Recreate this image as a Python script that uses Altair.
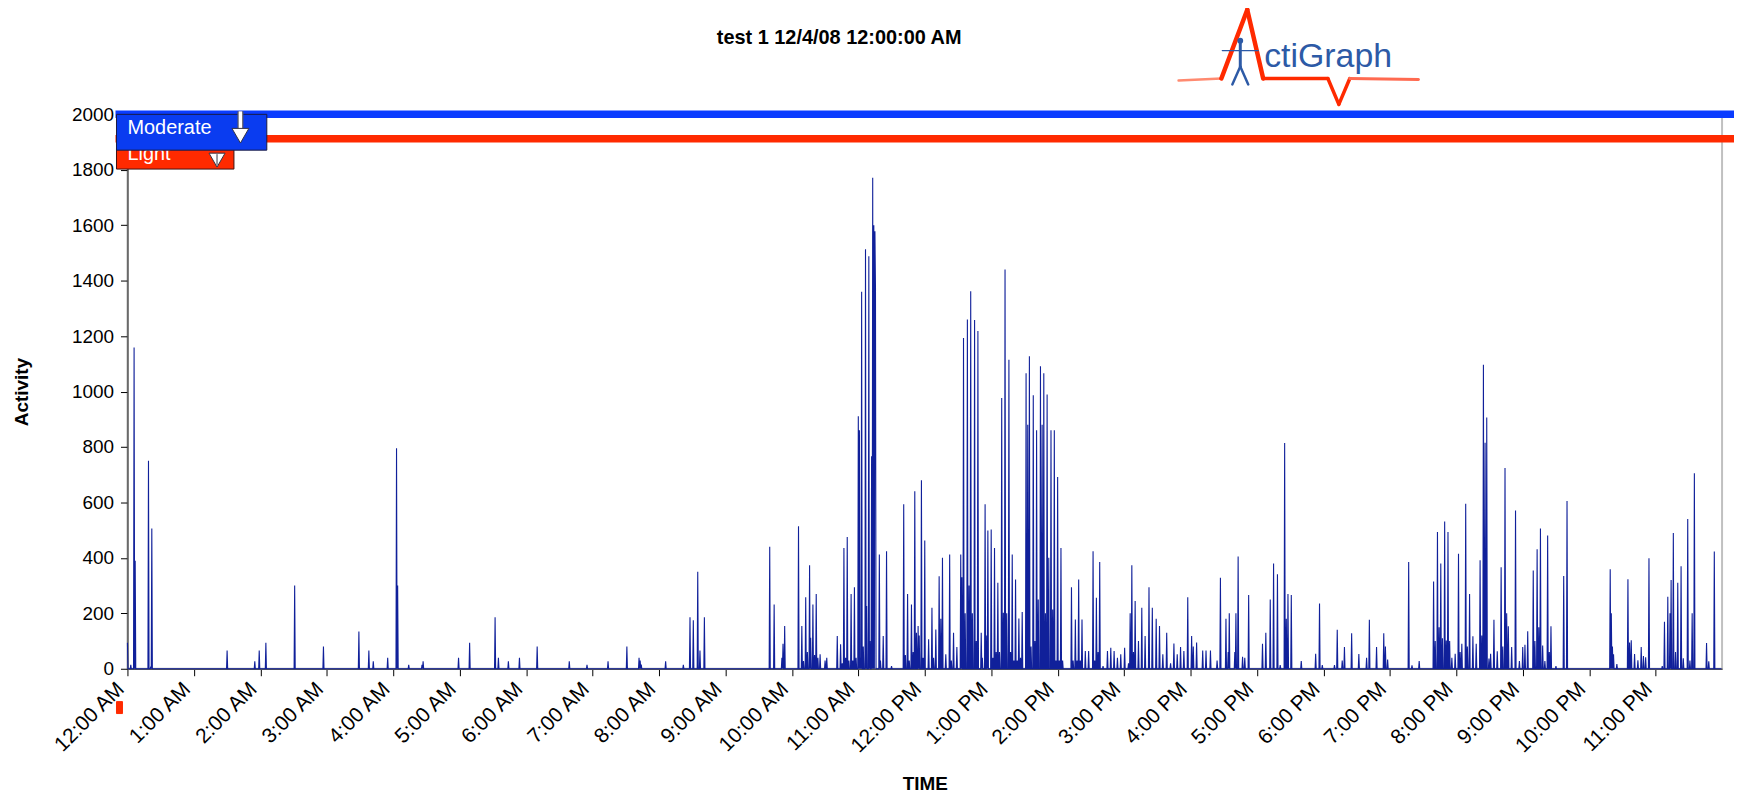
import altair as alt
import numpy as np
import pandas as pd

TITLE = "test 1 12/4/08 12:00:00 AM"
X_TITLE = "TIME"
Y_TITLE = "Activity"
LOGO_TEXT = "ctiGraph"
TICK_LABELS = ["12:00 AM", "1:00 AM", "2:00 AM", "3:00 AM", "4:00 AM", "5:00 AM",
               "6:00 AM", "7:00 AM", "8:00 AM", "9:00 AM", "10:00 AM", "11:00 AM",
               "12:00 PM", "1:00 PM", "2:00 PM", "3:00 PM", "4:00 PM", "5:00 PM",
               "6:00 PM", "7:00 PM", "8:00 PM", "9:00 PM", "10:00 PM", "11:00 PM"]
Y_TICKS = [0, 200, 400, 600, 800, 1000, 1200, 1400, 1600, 1800, 2000]
LEVELS = ["Moderate", "Light"]
LEVEL_VALUES = [2000, 1912]
LEVEL_COLORS = ["#0a3cff", "#ff2a00"]

# (minute of day, activity count); all other epochs are 0
SPIKES = [
    (0, 94), (3, 14), (6, 1159), (7, 390), (19, 750), (21, 8), (22, 506),
    (90, 66), (115, 27), (119, 66),
    (125, 94), (151, 300), (177, 80),
    (209, 134), (218, 66), (222, 27), (235, 40),
    (243, 795), (244, 300), (254, 14), (266, 14), (267, 27), (299, 40),
    (309, 94), (332, 186), (335, 40), (344, 27), (354, 40),
    (370, 80), (399, 27), (415, 14),
    (434, 27), (451, 80), (462, 40), (463, 30), (464, 15), (486, 27),
    (502, 14), (508, 186), (511, 175), (515, 350), (517, 66), (521, 186),
    (580, 440), (584, 232), (591, 40), (592, 90), (593.5, 154),
    (606, 514), (609, 154), (610.5, 28), (612.5, 258), (614, 60), (616, 373), (617, 112),
    (619, 232), (620.5, 50), (622, 270), (623.5, 40), (625.5, 52), (630, 30), (631.5, 40),
    (641, 118), (644, 88), (645.5, 20), (647, 436), (648.5, 40), (650, 475), (651.5, 30),
    (653.5, 270), (655, 30), (656.5, 294), (658, 40),
    (660, 911), (661, 860), (662, 40), (663, 1360), (664.5, 80), (666.5, 1513), (667.5, 226),
    (669.5, 1488), (670.5, 100), (672, 767), (673, 1771), (674, 1600), (675, 1578), (675.5, 1375),
    (679, 412), (680, 30), (682.5, 118), (685.5, 424), (690, 10), (701, 593), (702.5, 50),
    (704.5, 270), (706, 30), (708, 232), (709.5, 60), (711, 640), (712.5, 130), (714, 154),
    (715, 120), (717, 680), (718.5, 40), (720, 463),
    (723.5, 106), (726.5, 220), (728, 40), (730, 142), (733, 334), (734.5, 180), (736, 400),
    (739, 52), (742.5, 412), (744, 30), (746, 130), (749, 78), (752.5, 412), (753.5, 330),
    (755, 1193), (756.5, 200), (758.5, 1260), (760, 300), (761.5, 1362), (763, 200),
    (765, 1258), (766.5, 100), (768, 1218), (771, 130), (772, 40), (774.5, 593), (776, 120),
    (777, 499),
    (780, 502), (781.5, 40), (783, 436), (784.5, 60), (786, 310), (787.5, 60), (789.5, 977),
    (791, 202), (792.5, 1440), (794, 200), (796, 1115), (797.5, 60), (799, 412), (800.5, 30),
    (802, 322), (803.5, 30), (805, 181), (806.5, 40), (808, 205), (811.5, 1066), (813, 880),
    (814.5, 1127), (816, 80), (818, 987), (819.5, 100), (821, 860), (822.5, 250), (824.5, 1091),
    (826, 880), (827.5, 1066), (829, 200), (830.5, 989), (832, 400), (834, 860), (835.5, 214),
    (837, 860), (838.5, 30), (840, 692), (841.5, 30), (843, 436), (844.5, 30),
    (852.5, 294), (854, 30), (856, 178), (857.5, 30), (859, 322), (860.5, 30), (862, 178),
    (865, 64), (868, 64), (872, 424), (873.5, 30), (875, 256), (876.5, 60), (878, 385),
    (881, 10), (885, 64), (888, 76), (891, 64), (894, 40), (897, 52),
    (900.5, 76), (904, 20), (905.5, 200), (907, 373), (908.5, 60), (910, 244), (913, 100),
    (916, 220), (919, 118), (922.5, 294), (925.5, 220), (929, 180), (932, 154), (935, 52),
    (938.5, 130), (942, 20), (945, 91), (948, 52), (951, 78), (954, 64), (957.5, 258),
    (961, 118), (962.5, 80), (965.5, 95), (971, 66), (974, 66), (978, 66), (984, 30),
    (987, 328), (992, 180), (994, 60), (995, 200), (1000, 60), (1001, 200), (1003, 405),
    (1007, 43), (1009, 40), (1012.5, 266),
    (1025, 90), (1028, 130), (1032, 250), (1035, 380), (1038.5, 341), (1041, 13), (1045, 814),
    (1046.5, 180), (1048, 270), (1051, 266), (1060, 28), (1073, 54), (1076.5, 235), (1079, 13),
    (1090, 13), (1092.5, 141), (1097, 30), (1099, 78), (1105.5, 128), (1112, 53), (1119, 40),
    (1121.5, 177), (1128, 78), (1134.5, 128), (1136, 80), (1138, 33),
    (1157, 385), (1160, 12), (1166.5, 28), (1179.5, 315), (1181, 100), (1183, 493),
    (1184.5, 150), (1186, 380), (1187.5, 110), (1189.5, 531), (1191, 102), (1192.5, 493),
    (1194, 100), (1196, 40), (1199, 54),
    (1202, 415), (1203.5, 60), (1205, 90), (1208.5, 595), (1210, 80), (1212, 270), (1215, 117),
    (1218, 90), (1221.5, 391), (1223, 120), (1224.5, 1097), (1226, 815), (1227.5, 906),
    (1229.5, 37), (1231, 54), (1234, 177), (1237, 63), (1240.5, 366), (1242, 80), (1244, 724),
    (1245.5, 200), (1247, 153), (1250, 78), (1253.5, 571), (1257, 28),
    (1260, 78), (1262, 87), (1264.5, 135), (1269.5, 354), (1271, 100), (1273, 431),
    (1274.5, 150), (1276, 506), (1278, 84), (1280, 28), (1282.5, 481), (1284, 60),
    (1285.5, 153), (1290, 10), (1297, 335), (1300, 605),
    (1339, 359), (1340, 200), (1341, 80), (1342, 52), (1345, 17), (1355, 323), (1356.5, 95),
    (1358, 103), (1361, 53), (1364, 31), (1367, 78), (1369, 46), (1371, 41), (1374, 399),
    (1386, 10), (1388, 170), (1391, 260), (1393, 200), (1394, 320), (1396, 490), (1398, 60),
    (1400, 310), (1403, 370), (1405, 38), (1409, 540), (1411, 30), (1413, 200), (1415, 705),
    (1426, 93), (1428, 27), (1433, 423),
]

# half-minute epoch grid
minutes = np.arange(0, 1440, 0.5)
activity = np.zeros(len(minutes))
for m, v in SPIKES:
    activity[int(round(m * 2))] = v
df = pd.DataFrame({"minute": minutes, "activity": activity})
thr = pd.DataFrame({"level": LEVELS, "activity": LEVEL_VALUES})

W, H = 1602, 557
FONT = "Liberation Sans"
label_expr = "[" + ",".join("'%s'" % s for s in TICK_LABELS) + "][round(datum.value/60)]"

x_axis = alt.Axis(values=[i * 60 for i in range(24)], labelExpr=label_expr, labelAngle=315,
                  labelAlign="right", labelBaseline="middle", labelFont=FONT, labelFontSize=21,
                  labelColor="black", labelPadding=10, labelOffset=-7, labelOverlap=False,
                  labelFlush=False, tickSize=7, tickColor="black", tickWidth=1,
                  domainColor="#555555", domainWidth=1.5, grid=False, title=X_TITLE,
                  titleFont=FONT, titleFontSize=19, titleFontWeight="bold", titleColor="black",
                  titleX=W / 2, titleY=115, titleAlign="center", titleBaseline="middle")
y_axis = alt.Axis(values=Y_TICKS, format="d", labelFont=FONT, labelFontSize=19,
                  labelColor="black", labelPadding=7, tickSize=7, tickColor="black",
                  domainColor="#555555", domainWidth=1.5, grid=False, title=Y_TITLE,
                  titleFont=FONT, titleFontSize=19, titleFontWeight="bold", titleColor="black",
                  titleX=-106, titleY=H / 2, titleAngle=270, titleAlign="center",
                  titleBaseline="middle")

line = alt.Chart(df).mark_line(color="#10209a", strokeWidth=1.1).encode(
    x=alt.X("minute:Q", scale=alt.Scale(domain=[0, 1440], nice=False, zero=True), axis=x_axis),
    y=alt.Y("activity:Q", scale=alt.Scale(domain=[0, 2000], nice=False), axis=y_axis),
)

levels = alt.Chart(thr).mark_rule(strokeWidth=7.5).encode(
    y="activity:Q", x=alt.value(-12), x2=alt.value(W + 12),
    color=alt.Color("level:N", scale=alt.Scale(domain=LEVELS, range=LEVEL_COLORS), legend=None),
)


def one():
    return alt.Data(values=[{"k": 0}])


def seg(x1, y1, x2, y2, color, w, cap="round"):
    return alt.Chart(one()).mark_rule(color=color, strokeWidth=w, strokeCap=cap).encode(
        x=alt.value(x1), y=alt.value(y1), x2=alt.value(x2), y2=alt.value(y2))


def box(x1, y1, x2, y2, fill, stroke):
    return alt.Chart(one()).mark_rect(fill=fill, stroke=stroke, strokeWidth=1).encode(
        x=alt.value(x1), y=alt.value(y1), x2=alt.value(x2), y2=alt.value(y2))


def label(txt, x, y, size, color, weight="normal", align="left", baseline="alphabetic"):
    return alt.Chart(one()).mark_text(text=txt, font=FONT, fontSize=size, color=color,
                                      fontWeight=weight, align=align, baseline=baseline).encode(
        x=alt.value(x), y=alt.value(y))


def tri(x, y, size):
    return alt.Chart(one()).mark_point(shape="triangle-down", size=size, filled=True,
                                       fill="white", stroke="#333344", strokeWidth=1,
                                       opacity=1).encode(x=alt.value(x), y=alt.value(y))


# Light badge (underneath)
light_box = box(-11, 34, 107, 55, LEVEL_COLORS[1], "#401010")
light_txt = label(LEVELS[1], 0, 46, 20, "white")
light_tri = tri(90, 46, 260)
light_stem = seg(90, 40, 90, 51, "#333344", 1, "butt")

# Moderate badge (on top)
mod_box = box(-11, 0, 140, 36, "#0a3cf0", "#1a1a40")
mod_txt = label(LEVELS[0], 0, 20, 20, "white")
mod_shaft_o = seg(113.5, -3, 113.5, 16, "#556", 6, "butt")
mod_shaft = seg(113.5, -3, 113.5, 16, "white", 3.5, "butt")
mod_tri = tri(113.5, 21.5, 289)

title = label(TITLE, 715, -77, 20, "black", "bold", "center", "middle")

# logo
RED = "#ff2a00"
BLUE = "#2d5aa6"
logo = [
    seg(1056, -34, 1099, -36, "#ff8a70", 2.5),
    seg(1099, -36, 1125, -105, RED, 4.5),
    seg(1125, -105, 1141, -36, RED, 4.5),
    seg(1141, -36, 1206, -36, RED, 3.5),
    seg(1206, -36, 1217, -10, RED, 3.5),
    seg(1217, -10, 1228, -36, RED, 3.5),
    seg(1228, -36, 1297, -35, "#ff6a50", 3),
    seg(1100, -64, 1136, -64, BLUE, 1.5),
    seg(1118, -72, 1118, -48, BLUE, 3),
    seg(1118, -48, 1110, -30, BLUE, 2.5),
    seg(1118, -48, 1126, -30, BLUE, 2.5),
    alt.Chart(one()).mark_point(shape="circle", size=34, filled=True, color=BLUE, opacity=1)
    .encode(x=alt.value(1118), y=alt.value(-74)),
    label(LOGO_TEXT, 1142, -48, 34, BLUE),
]

red_mark = box(-11, 590, -5, 602, RED, RED)

chart = alt.layer(
    line, levels,
    light_box, light_txt, light_tri, light_stem,
    mod_box, mod_txt, mod_shaft_o, mod_shaft, mod_tri,
    title, *logo, red_mark,
).properties(
    width=W, height=H,
    autosize=alt.AutoSizeParams(type="none"),
    padding={"left": 120, "top": 105, "right": 12, "bottom": 124},
).configure_view(stroke="#c0c0c0", strokeWidth=2)

chart.save("out.html", embed_options={"renderer": "svg", "actions": False})
